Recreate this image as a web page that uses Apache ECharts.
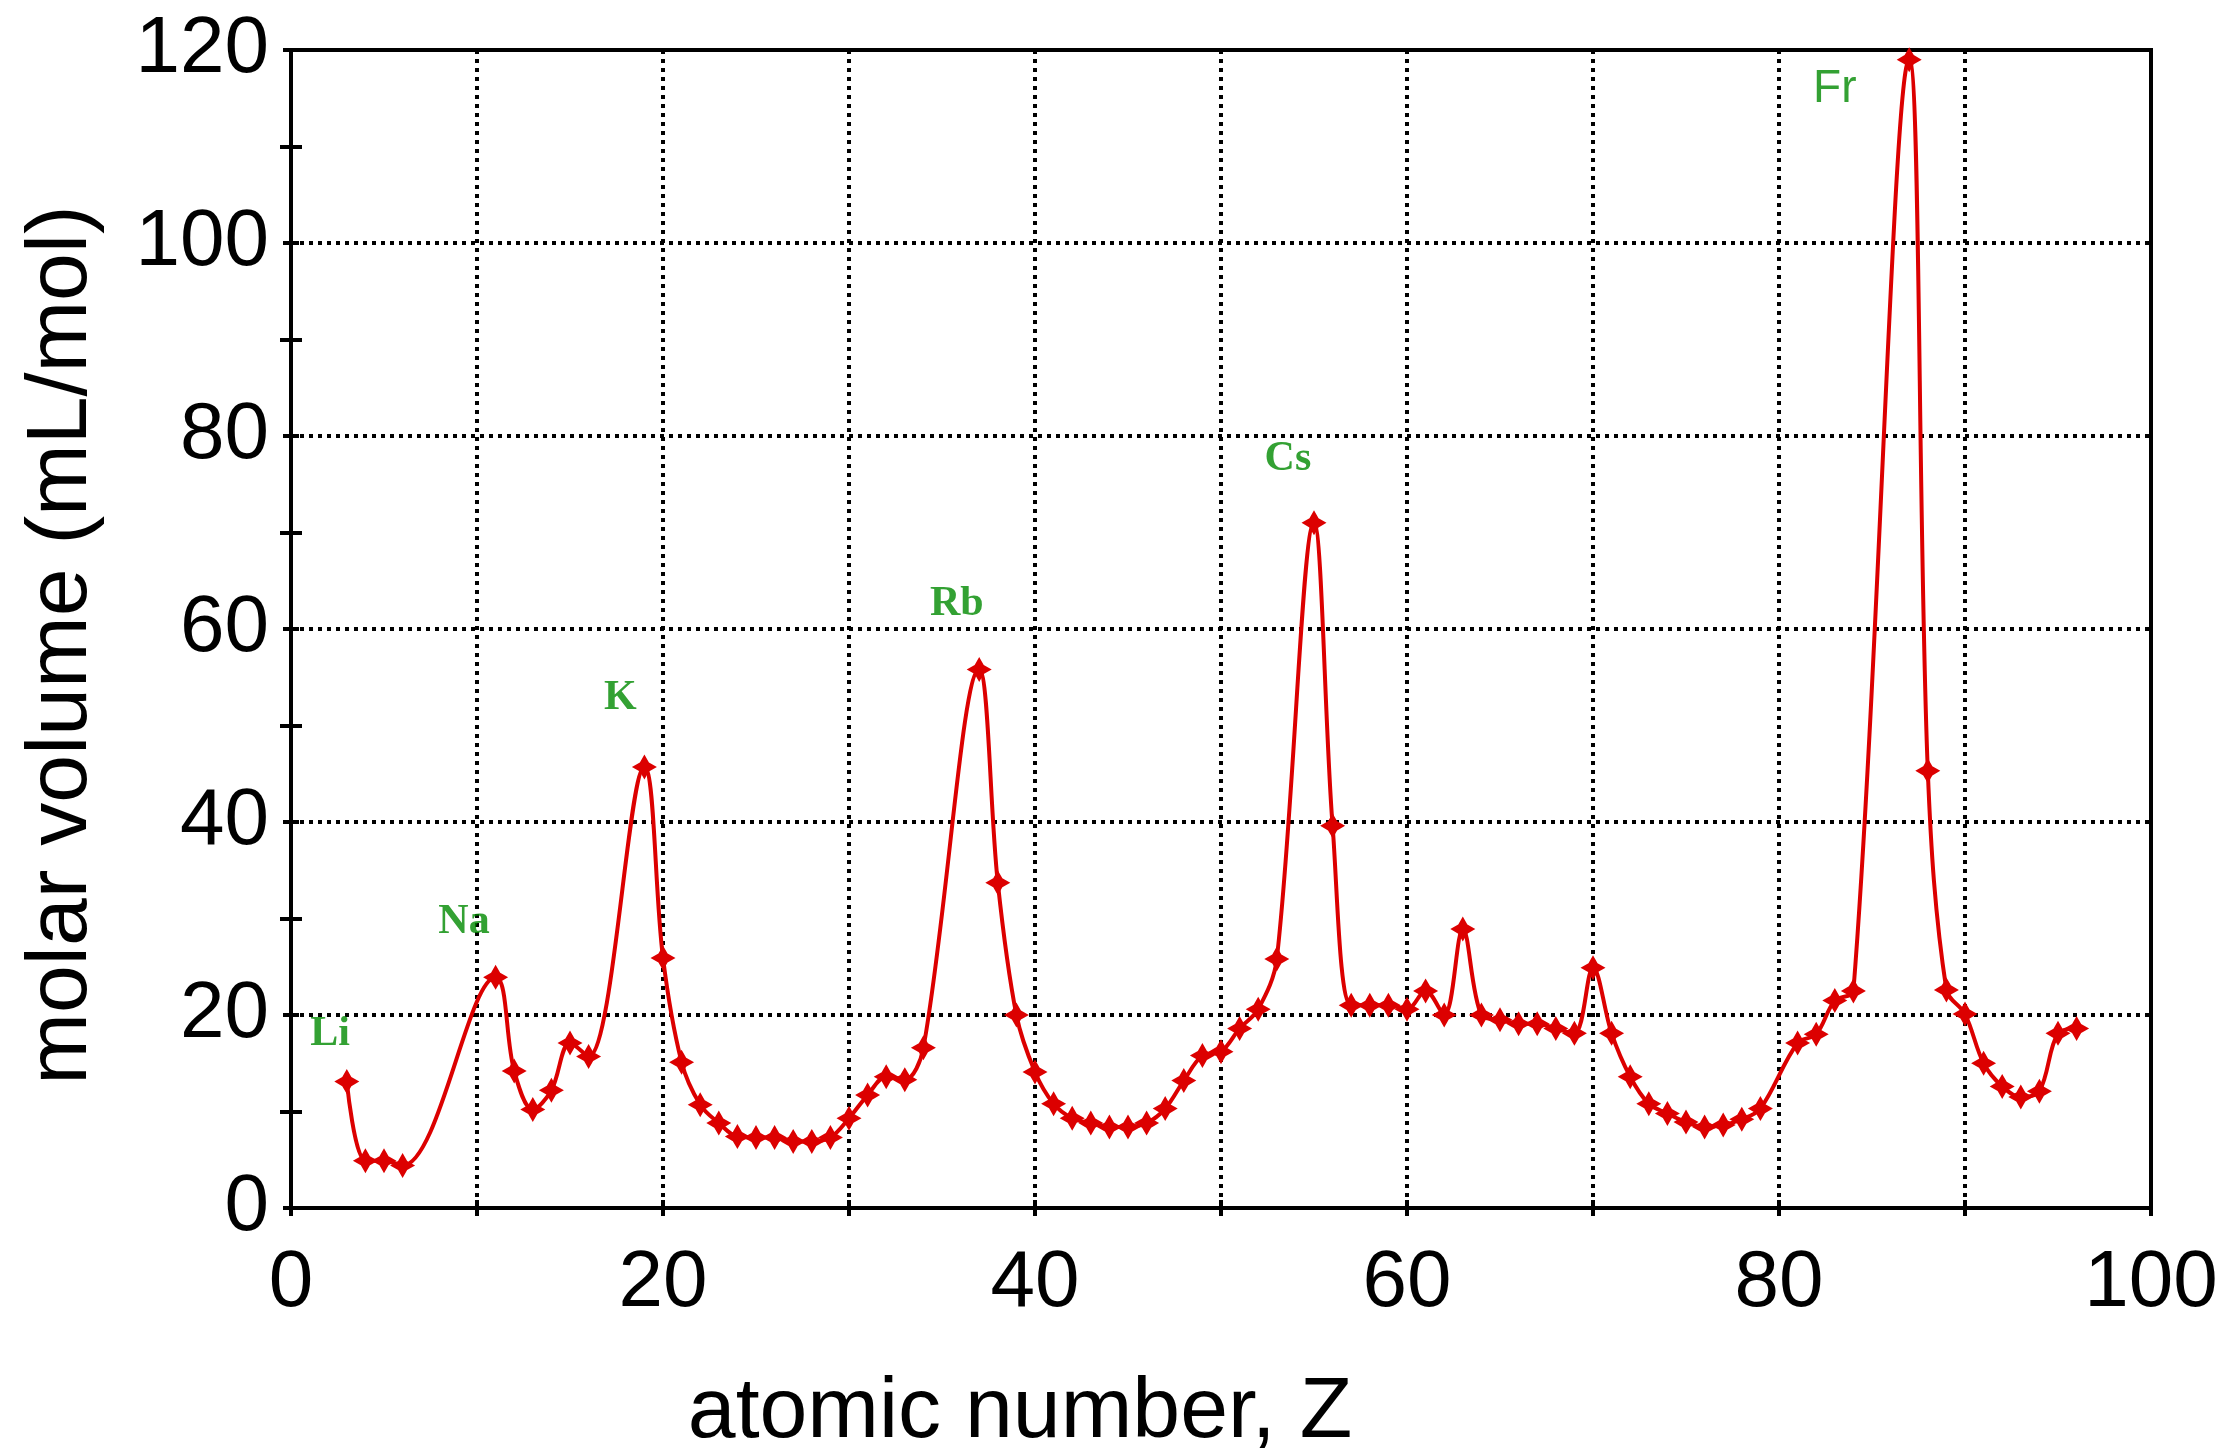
<!DOCTYPE html>
<html>
<head>
<meta charset="utf-8">
<title>molar volume vs atomic number</title>
<script src="https://cdn.jsdelivr.net/npm/echarts@6/dist/echarts.min.js"></script>
<style>
  html, body { margin: 0; padding: 0; background: #fff; }
  #chart { width: 2234px; height: 1453px; }
</style>
</head>
<body>
<div id="chart"></div>
<script>
// atomic number (elements without a value are simply left out)
const atomicNumber = [
  3, 4, 5, 6,
  11, 12, 13, 14, 15, 16,
  19, 20, 21, 22, 23, 24, 25, 26, 27, 28, 29, 30, 31, 32, 33, 34,
  37, 38, 39, 40, 41, 42, 43, 44, 45, 46, 47, 48, 49, 50, 51, 52, 53,
  55, 56, 57, 58, 59, 60, 61, 62, 63, 64, 65, 66, 67, 68, 69, 70,
  71, 72, 73, 74, 75, 76, 77, 78, 79,
  81, 82, 83, 84,
  87, 88, 89, 90, 91, 92, 93, 94, 95, 96
];
// molar volume (mL/mol)
const molarVolume = [
  13.1, 4.9, 4.9, 4.4,
  23.9, 14.2, 10.2, 12.2, 17.1, 15.7,
  45.7, 25.9, 15.1, 10.7, 8.8, 7.4, 7.3, 7.3, 6.9, 6.9, 7.3, 9.3, 11.7, 13.6, 13.3, 16.6,
  55.8, 33.7, 20.0, 14.1, 10.8, 9.3, 8.8, 8.4, 8.4, 8.8, 10.3, 13.2, 15.8, 16.2, 18.6, 20.6, 25.8,
  71.0, 39.6, 21.0, 21.0, 21.0, 20.6, 22.5, 20.0, 28.9, 20.0, 19.5, 19.1, 19.1, 18.6, 18.1, 24.9,
  18.1, 13.6, 10.8, 9.8, 8.9, 8.4, 8.6, 9.2, 10.3,
  17.1, 18.0, 21.5, 22.5,
  119.0, 45.3, 22.6, 20.1, 15.0, 12.6, 11.5, 12.1, 18.1, 18.6
];

// element labels, placed in data units
const labelNames = ['Li', 'Na', 'K', 'Rb', 'Cs', 'Fr'];
const labelX = [2.1, 9.3, 17.7, 35.8, 53.6, 83.0];
const labelY = [18.0, 29.6, 52.8, 62.6, 77.6, 115.9];

const xTicks = [0, 20, 40, 60, 80, 100];

const RED = '#dc0000';
const GREEN = '#008a00';
const STAR = 'path://M0,-11 L4,-4 L11,0 L4,4 L0,11 L-4,4 L-11,0 L-4,-4 Z';

const chart = echarts.init(document.getElementById('chart'));

const dotted = { color: '#000', width: 4, type: [4, 5] };
const tickStyle = { color: '#000', width: 4 };

const option = {
  backgroundColor: '#fff',
  animation: false,
  grid: {
    left: 291, right: 83, top: 50, bottom: 245,
    show: true, borderColor: '#000', borderWidth: 4
  },
  xAxis: [
    {
      type: 'value', min: 0, max: 100, interval: 10,
      axisLine: { show: false },
      axisTick: { inside: true, length: 8, lineStyle: tickStyle },
      axisLabel: {
        margin: 36,
        fontFamily: 'Liberation Sans', fontSize: 80, color: '#000',
        formatter: v => xTicks.indexOf(v) >= 0 ? String(v) : ''
      },
      splitLine: { show: true, lineStyle: dotted }
    },
    {
      type: 'value', min: 0, max: 100, interval: 10, position: 'top',
      axisLine: { show: false },
      axisTick: { inside: true, length: 8, lineStyle: tickStyle },
      axisLabel: { show: false },
      splitLine: { show: false }
    }
  ],
  yAxis: [
    {
      type: 'value', min: 0, max: 120, interval: 20,
      axisLine: { show: false },
      axisTick: { inside: true, length: 8, lineStyle: tickStyle },
      minorTick: { show: true, splitNumber: 2, length: 11, lineStyle: tickStyle },
      axisLabel: {
        margin: 22, padding: [14, 0, 0, 0],
        fontFamily: 'Liberation Sans', fontSize: 80, color: '#000'
      },
      splitLine: { show: true, lineStyle: dotted }
    },
    {
      type: 'value', min: 0, max: 120, interval: 20, position: 'right',
      axisLine: { show: false },
      axisTick: { inside: true, length: 8, lineStyle: tickStyle },
      minorTick: { show: true, splitNumber: 2, length: 11, lineStyle: tickStyle },
      axisLabel: { show: false },
      splitLine: { show: false }
    }
  ],
  series: [
    {
      name: 'molar volume',
      type: 'line',
      data: atomicNumber.map((z, i) => [z, molarVolume[i]]),
      smooth: 0.35,
      symbol: STAR,
      symbolSize: 25,
      showAllSymbol: true,
      lineStyle: { color: RED, width: 4 },
      itemStyle: { color: RED },
      z: 5
    },
    {
      name: 'labels',
      type: 'scatter',
      data: labelNames.map((n, i) => ({ value: [labelX[i], labelY[i]], name: n })),
      symbolSize: 0,
      silent: true,
      label: {
        show: true,
        position: 'inside',
        formatter: p => p.name,
        color: GREEN,
        fontFamily: 'Liberation Serif',
        fontWeight: 'bold',
        fontSize: 42
      },
      z: 6
    }
  ],
  graphic: [
    {
      type: 'text', x: 1020, y: 1413,
      style: {
        text: 'atomic number, Z', fill: '#000',
        font: '86px "Liberation Sans"', align: 'center', verticalAlign: 'middle'
      }
    },
    {
      type: 'text', x: 62, y: 645, rotation: Math.PI / 2,
      style: {
        text: 'molar volume (mL/mol)', fill: '#000',
        font: '86px "Liberation Sans"', align: 'center', verticalAlign: 'middle'
      }
    }
  ]
};

// Fr is set in a sans font in the original
option.series[1].data[5].label = { fontFamily: 'Liberation Sans', fontWeight: 'normal', fontSize: 46 };

chart.setOption(option);
</script>
</body>
</html>
